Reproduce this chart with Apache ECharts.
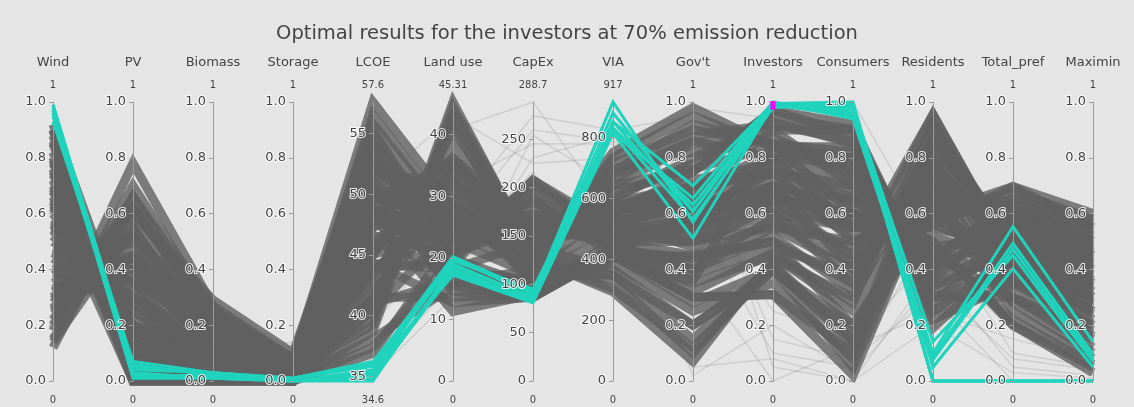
<!DOCTYPE html>
<html>
<head>
<meta charset="utf-8">
<script src="https://cdn.jsdelivr.net/npm/echarts@6/dist/echarts.min.js"></script>
<style>
  html, body { margin: 0; padding: 0; background: #e5e5e5; }
  #chart { width: 1134px; height: 407px; }
</style>
</head>
<body>
<div id="chart"></div>
<script>
// Axis definitions
const dimensions = ['Wind', 'PV', 'Biomass', 'Storage', 'LCOE', 'Land use', 'CapEx', 'VIA',
  "Gov't", 'Investors', 'Consumers', 'Residents', 'Total_pref', 'Maximin'];
const axisMin = [0, 0, 0, 0, 34.6, 0, 0, 0, 0, 0, 0, 0, 0, 0];
const axisMax = [1, 1, 1, 1, 57.6, 45.31, 288.7, 917, 1, 1, 1, 1, 1, 1];
const rangeMaxText = ['1', '1', '1', '1', '57.6', '45.31', '288.7', '917', '1', '1', '1', '1', '1', '1'];
const rangeMinText = ['0', '0', '0', '0', '34.6', '0', '0', '0', '0', '0', '0', '0', '0', '0'];
const unitTicks = [0, 0.2, 0.4, 0.6, 0.8, 1];
const lcoeTicks = [35, 40, 45, 50, 55];
const landTicks = [0, 10, 20, 30, 40];
const capexTicks = [0, 50, 100, 150, 200, 250];
const viaTicks = [0, 200, 400, 600, 800];
const tickValues = [unitTicks, unitTicks, unitTicks, unitTicks, lcoeTicks, landTicks, capexTicks,
  viaTicks, unitTicks, unitTicks, unitTicks, unitTicks, unitTicks, unitTicks];

// Portfolios outside the investors' selection
// [Wind, PV, Biomass, Storage, LCOE, Land use, CapEx, VIA, Gov't, Investors, Consumers, Residents, Total_pref, Maximin]
const otherRuns = [
  [0.92, 0.13, 0.05, 0.02, 45.0, 24.9, 129.9, 752, 0.98, 0.84, 0.80, 0.25, 0.45, 0.35],
  [0.90, 0.00, 0.00, 0.00, 41.5, 36.2, 158.8, 459, 0.55, 0.70, 0.65, 0.50, 0.20, 0.03],
  [0.85, 0.05, 0.02, 0.01, 48.2, 11.3, 89.5, 431, 0.40, 0.55, 0.40, 0.955, 0.445, 0.30],
  [0.12, 0.66, 0.20, 0.05, 53.0, 22.7, 187.7, 413, 0.30, 0.31, 0.02, 0.70, 0.60, 0.45],
  [0.18, 0.78, 0.27, 0.08, 57.6, 28.5, 144.4, 550, 0.75, 0.97, 0.88, 0.30, 0.40, 0.30],
  [0.30, 0.60, 0.29, 0.10, 55.3, 20.4, 207.9, 477, 0.50, 0.60, 0.55, 0.60, 0.697, 0.60],
  [0.25, 0.55, 0.15, 0.04, 39.2, 45.3, 132.8, 642, 0.85, 0.90, 0.90, 0.35, 0.50, 0.42],
  [0.70, 0.10, 0.03, 0.01, 38.1, 15.4, 86.6, 422, 0.60, 0.65, 0.60, 0.558, 0.697, 0.55],
  [0.60, 0.20, 0.08, 0.03, 43.8, 19.5, 207.9, 504, 0.65, 0.80, 0.78, 0.19, 0.45, 0.38],
  [0.50, 0.30, 0.10, 0.03, 49.6, 27.2, 127.0, 293, 0.07, 0.44, 0.30, 0.80, 0.35, 0.20],
  [0.45, 0.40, 0.12, 0.04, 50.7, 14.5, 86.6, 422, 0.30, 0.31, 0.10, 0.85, 0.50, 0.40],
  [0.80, 0.02, 0.01, 0.00, 46.1, 31.7, 129.9, 715, 0.90, 0.85, 0.75, 0.40, 0.55, 0.45],
  [0.75, 0.15, 0.05, 0.02, 54.2, 24.9, 173.2, 459, 0.45, 0.50, 0.35, 0.90, 0.50, 0.35],
  [0.65, 0.25, 0.10, 0.03, 51.9, 18.1, 144.4, 550, 0.70, 0.75, 0.70, 0.30, 0.30, 0.15],
  [0.55, 0.35, 0.20, 0.06, 56.5, 26.3, 158.8, 596, 0.80, 0.93, 0.85, 0.25, 0.40, 0.25],
  [0.40, 0.45, 0.22, 0.07, 48.4, 34.0, 115.5, 688, 0.92, 0.85, 0.82, 0.40, 0.60, 0.50],
  [0.35, 0.50, 0.18, 0.05, 42.7, 40.8, 138.6, 367, 0.20, 0.40, 0.20, 0.65, 0.25, 0.08],
  [0.20, 0.70, 0.25, 0.08, 47.3, 29.5, 101.0, 413, 0.35, 0.45, 0.25, 0.75, 0.55, 0.48],
  [0.15, 0.62, 0.23, 0.06, 45.0, 38.5, 144.4, 504, 0.55, 0.62, 0.45, 0.955, 0.44, 0.36],
  [0.88, 0.03, 0.02, 0.00, 40.4, 43.0, 135.7, 624, 0.75, 0.97, 0.92, 0.32, 0.48, 0.38],
  [0.82, 0.08, 0.04, 0.02, 50.7, 15.9, 92.4, 459, 0.50, 0.55, 0.50, 0.62, 0.65, 0.58],
  [0.72, 0.00, 0.00, 0.00, 43.8, 27.2, 115.5, 569, 0.72, 0.78, 0.68, 0.45, 0.30, 0.12],
  [0.68, 0.05, 0.01, 0.00, 36.9, 22.7, 109.7, 348, 0.15, 0.42, 0.15, 0.60, 0.40, 0.25],
  [0.62, 0.12, 0.06, 0.02, 46.6, 20.4, 190.5, 459, 0.55, 0.70, 0.62, 0.50, 0.20, 0.05],
  [0.58, 0.30, 0.14, 0.05, 54.8, 21.7, 167.4, 532, 0.68, 0.82, 0.80, 0.22, 0.35, 0.28],
  [0.52, 0.22, 0.09, 0.02, 41.5, 35.3, 150.1, 660, 0.88, 0.92, 0.86, 0.38, 0.58, 0.52],
  [0.48, 0.42, 0.16, 0.05, 48.9, 17.2, 103.9, 385, 0.25, 0.35, 0.08, 0.78, 0.45, 0.35],
  [0.42, 0.35, 0.05, 0.01, 45.6, 30.8, 129.9, 734, 0.95, 0.84, 0.84, 0.28, 0.52, 0.44],
  [0.38, 0.52, 0.24, 0.07, 52.5, 23.6, 179.0, 440, 0.42, 0.58, 0.48, 0.70, 0.62, 0.55],
  [0.32, 0.48, 0.10, 0.03, 39.7, 41.7, 121.3, 330, 0.10, 0.42, 0.12, 0.88, 0.42, 0.30],
  [0.28, 0.58, 0.20, 0.06, 50.2, 28.1, 144.4, 569, 0.62, 0.72, 0.58, 0.58, 0.68, 0.58],
  [0.22, 0.66, 0.26, 0.07, 55.8, 25.4, 196.3, 495, 0.58, 0.68, 0.52, 0.66, 0.55, 0.46],
  [0.14, 0.55, 0.12, 0.04, 43.3, 32.6, 127.0, 303, 0.12, 0.40, 0.05, 0.72, 0.30, 0.18],
  [0.78, 0.18, 0.07, 0.02, 47.9, 36.2, 132.8, 697, 0.82, 0.87, 0.76, 0.36, 0.62, 0.50],
  [0.86, 0.10, 0.03, 0.01, 44.3, 12.7, 86.6, 440, 0.38, 0.48, 0.38, 0.82, 0.38, 0.22],
  [0.74, 0.20, 0.11, 0.03, 49.6, 26.3, 155.9, 523, 0.48, 0.63, 0.55, 0.55, 0.48, 0.36],
  [0.66, 0.08, 0.02, 0.00, 38.7, 44.4, 135.7, 605, 0.78, 0.95, 0.90, 0.34, 0.46, 0.32],
  [0.56, 0.18, 0.04, 0.01, 53.5, 19.0, 202.1, 486, 0.52, 0.66, 0.60, 0.48, 0.22, 0.06],
  [0.46, 0.28, 0.08, 0.02, 47.3, 29.9, 141.5, 587, 0.70, 0.74, 0.66, 0.42, 0.50, 0.40],
  [0.36, 0.40, 0.14, 0.04, 41.0, 16.3, 89.5, 431, 0.32, 0.46, 0.28, 0.92, 0.46, 0.32],
  [0.26, 0.62, 0.21, 0.06, 51.2, 20.8, 161.7, 449, 0.40, 0.52, 0.32, 0.86, 0.52, 0.42],
  [0.90, 0.06, 0.03, 0.01, 48.9, 23.6, 121.3, 679, 0.86, 0.80, 0.72, 0.42, 0.66, 0.56],
  [0.76, 0.00, 0.00, 0.00, 42.2, 28.1, 127.0, 348, 0.20, 0.39, 0.18, 0.68, 0.28, 0.10],
  [0.64, 0.00, 0.00, 0.00, 45.2, 33.5, 138.6, 541, 0.64, 0.76, 0.64, 0.52, 0.42, 0.30],
  [0.54, 0.14, 0.02, 0.00, 37.4, 19.9, 98.2, 403, 0.45, 0.57, 0.42, 0.64, 0.36, 0.20],
  [0.44, 0.25, 0.06, 0.02, 52.1, 24.5, 184.8, 468, 0.58, 0.69, 0.56, 0.62, 0.58, 0.50],
  [0.34, 0.32, 0.02, 0.00, 47.9, 36.2, 132.8, 642, 0.76, 0.84, 0.74, 0.44, 0.64, 0.54],
  [0.24, 0.45, 0.09, 0.03, 44.3, 18.1, 95.3, 413, 0.28, 0.40, 0.14, 0.74, 0.34, 0.16],
  [0.57, 0.28, 0.11, 0.04, 49.6, 35.3, 144.4, 569, 0.68, 0.90, 0.70, 0.48, 0.52, 0.44],
  [0.47, 0.38, 0.13, 0.04, 43.8, 27.2, 109.7, 477, 0.56, 0.80, 0.55, 0.66, 0.62, 0.52],
  [0.33, 0.44, 0.16, 0.05, 40.4, 24.9, 153.0, 523, 0.62, 0.70, 0.40, 0.75, 0.50, 0.40],
  [0.69, 0.16, 0.06, 0.02, 51.9, 31.7, 164.6, 578, 0.66, 0.60, 0.35, 0.80, 0.55, 0.46],
  [0.79, 0.11, 0.04, 0.01, 46.1, 18.1, 103.9, 431, 0.44, 0.50, 0.20, 0.62, 0.40, 0.28],
  [0.39, 0.36, 0.08, 0.02, 41.5, 13.6, 89.5, 413, 0.36, 0.85, 0.60, 0.45, 0.38, 0.24],
  [0.63, 0.19, 0.09, 0.03, 54.2, 15.9, 115.5, 514, 0.60, 0.75, 0.50, 0.56, 0.45, 0.34],
  [0.29, 0.52, 0.19, 0.06, 48.4, 22.7, 173.2, 495, 0.52, 0.65, 0.45, 0.68, 0.58, 0.48]
];

// Sparse outlying portfolios (drawn faint)
const sparseRuns = [
  [0.50, 0.30, 0.05, 0.02, 36.4, 27.2, 274.3, 825, 0.95, 0.05, 0.00, 0.40, 0.05, 0.02],
  [0.70, 0.15, 0.02, 0.00, 35.5, 15.9, 231.0, 807, 0.60, 0.10, 0.05, 0.55, 0.10, 0.05],
  [0.30, 0.50, 0.15, 0.12, 46.1, 40.8, 288.7, 550, 0.85, 0.15, 0.08, 0.30, 0.00, 0.00],
  [0.60, 0.25, 0.10, 0.14, 41.5, 31.7, 245.4, 779, 0.40, 0.00, 0.12, 0.25, 0.15, 0.08],
  [0.40, 0.35, 0.08, 0.02, 35.1, 13.6, 254.1, 642, 0.02, 0.20, 0.03, 0.35, 0.08, 0.04],
  [0.80, 0.10, 0.01, 0.00, 36.0, 20.4, 216.5, 367, 0.05, 0.08, 0.00, 0.20, 0.03, 0.01],
  [0.55, 0.20, 0.05, 0.01, 39.2, 24.9, 259.8, 789, 0.70, 0.25, 0.15, 0.45, 0.18, 0.10],
  [0.20, 0.60, 0.28, 0.11, 50.7, 43.0, 225.2, 734, 0.98, 0.94, 1.00, 0.50, 0.35, 0.20]
];

// Portfolios selected on the Investors axis
const investorRuns = [
  [0.99, 0.02, 0.02, 0.00, 35.3, 19.9, 89.5, 917, 0.57, 0.995, 0.99, 0.000, 0.000, 0.000],
  [0.98, 0.04, 0.03, 0.01, 35.8, 19.0, 86.6, 881, 0.61, 0.990, 0.98, 0.141, 0.450, 0.070],
  [0.97, 0.01, 0.01, 0.00, 35.1, 18.1, 83.7, 852, 0.70, 0.995, 0.96, 0.100, 0.553, 0.141],
  [0.96, 0.06, 0.02, 0.01, 36.0, 20.2, 92.4, 831, 0.632, 0.990, 0.95, 0.088, 0.493, 0.096],
  [0.95, 0.03, 0.01, 0.00, 35.5, 17.2, 80.8, 815, 0.655, 1.000, 0.94, 0.076, 0.473, 0.080],
  [0.93, 0.07, 0.03, 0.01, 36.2, 19.5, 95.3, 815, 0.512, 0.990, 0.97, 0.050, 0.403, 0.050],
  [0.97, 0.02, 0.02, 0.00, 34.8, 17.7, 82.3, 852, 0.607, 0.995, 1.00, 0.000, 0.000, 0.000],
  [0.99, 0.05, 0.03, 0.00, 34.6, 18.6, 86.6, 831, 0.58, 0.980, 0.99, 0.000, 0.000, 0.000]
];
const investorsAxis = 9;
const investorsSelection = [0.972, 1];

const FONT = '"DejaVu Sans", Verdana, sans-serif';
const PAR = { left: 53, right: 41, top: 102, bottom: 26 };

const chart = echarts.init(document.getElementById('chart'), null, { renderer: 'canvas' });

const unitAxis = (i) => axisMax[i] === 1 && axisMin[i] === 0;

const parallelAxis = dimensions.map((name, i) => ({
  dim: i,
  name: '{n|' + name + '}\n{r|' + rangeMaxText[i] + '}',
  nameLocation: 'end',
  nameGap: 9,
  nameTextStyle: {
    rich: {
      n: { fontSize: 13, color: '#444', lineHeight: 28, fontFamily: FONT },
      r: { fontSize: 10, color: '#444', lineHeight: 16, fontFamily: FONT }
    }
  },
  min: axisMin[i],
  max: axisMax[i],
  axisLine: { show: true, lineStyle: { color: '#9a9a9a', width: 1 } },
  // ticks and labels sit on the left-hand side of each axis
  axisTick: { show: true, length: -4, lineStyle: { color: '#9a9a9a' }, customValues: tickValues[i] },
  axisLabel: {
    show: true,
    align: 'right',
    margin: -7,
    customValues: tickValues[i],
    fontSize: 13,
    color: '#444',
    fontFamily: FONT,
    textBorderColor: 'rgba(255,255,255,0.85)',
    textBorderWidth: 2,
    formatter: (v) => unitAxis(i) ? Number(v).toFixed(1) : String(v)
  },
  splitLine: { show: false }
}));

const option = {
  backgroundColor: '#e5e5e5',
  animation: false,
  title: {
    text: 'Optimal results for the investors at 70% emission reduction',
    left: 'center',
    top: 19,
    textStyle: { fontSize: 19.5, color: '#444', fontWeight: 'normal', fontFamily: FONT }
  },
  parallel: {
    left: PAR.left, right: PAR.right, top: PAR.top, bottom: PAR.bottom,
    layout: 'horizontal'
  },
  parallelAxis: parallelAxis,
  series: [
    {
      name: 'sparse', type: 'parallel', silent: true, data: sparseRuns,
      lineStyle: { color: '#6a6a6a', width: 1.5, opacity: 0.18 }
    },
    {
      name: 'others', type: 'parallel', silent: true, data: otherRuns,
      lineStyle: { color: '#606060', width: 9, opacity: 0.8 }
    },
    {
      name: 'investors', type: 'parallel', silent: true, data: investorRuns,
      lineStyle: { color: '#1fd3bd', width: 3, opacity: 1 }
    }
  ]
};
chart.setOption(option);

// Range-minimum labels under each axis and the Investors selection bar,
// positioned from the parallel layout
const plotW = chart.getWidth() - PAR.left - PAR.right;
const plotH = chart.getHeight() - PAR.top - PAR.bottom;
const step = plotW / (dimensions.length - 1);
const valueToY = (i, v) => PAR.top + (1 - (v - axisMin[i]) / (axisMax[i] - axisMin[i])) * plotH;
const selTop = valueToY(investorsAxis, investorsSelection[1]);
const selBottom = valueToY(investorsAxis, investorsSelection[0]);

chart.setOption({
  graphic: rangeMinText.map((t, i) => ({
    type: 'text',
    x: PAR.left + i * step,
    y: chart.getHeight() - 7,
    silent: true,
    style: { text: t, fill: '#444', font: '10px ' + FONT, textAlign: 'center', textVerticalAlign: 'middle' }
  })).concat([{
    type: 'rect',
    silent: true,
    z: 100,
    shape: { x: PAR.left + investorsAxis * step - 2.5, y: selTop - 1, width: 5, height: selBottom - selTop + 1 },
    style: { fill: '#ff00ff' }
  }])
});
</script>
</body>
</html>
